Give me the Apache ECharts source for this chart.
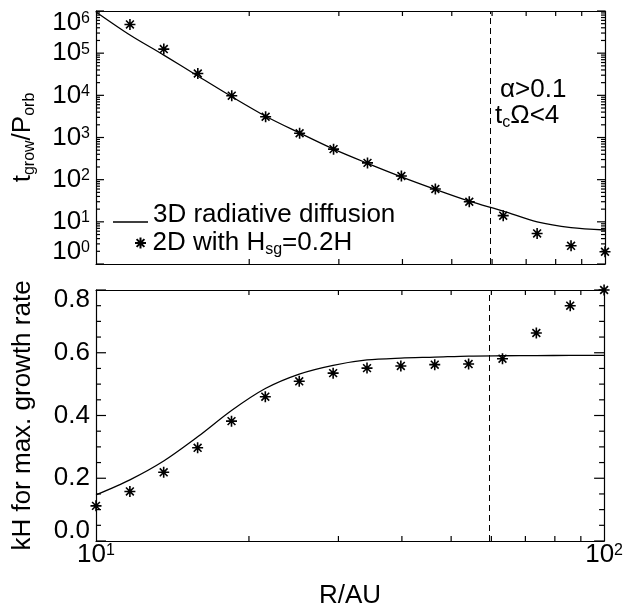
<!DOCTYPE html>
<html>
<head>
<meta charset="utf-8">
<script src="https://cdn.jsdelivr.net/npm/echarts@6/dist/echarts.min.js"></script>
<style>
html, body { margin: 0; padding: 0; background: #fff; }
#growth_chart { width: 626px; height: 612px; background: #fff; }
</style>
</head>
<body>
<div id="growth_chart"></div>
<script>
// sampled radii (AU), same for both panels
var radius = [10, 11.66, 13.59, 15.85, 18.48, 21.54, 25.12, 29.29, 34.15, 39.81, 46.42, 54.12, 63.10, 73.56, 85.77, 100];

// top panel: t_grow / P_orb
var growCurve = [9.5e5, 2.7e5, 9.0e4, 2.87e4, 9.3e3, 3.2e3, 1.28e3, 530, 244, 117, 59, 31, 18, 10, 7.3, 6.4];
var growStars = [null, 4.8e5, 1.25e5, 3.3e4, 9.8e3, 3.1e3, 1.26e3, 530, 250, 122, 60, 30, 14, 5.3, 2.7, 1.95];

// bottom panel: kH at max growth rate
var khCurve = [0.147, 0.195, 0.255, 0.332, 0.416, 0.486, 0.532, 0.56, 0.577, 0.583, 0.586, 0.5895, 0.5905, 0.591, 0.5915, 0.5915];
var khStars = [0.112, 0.158, 0.219, 0.297, 0.382, 0.46, 0.509, 0.535, 0.551, 0.558, 0.562, 0.564, 0.581, 0.663, 0.75, 0.80];

// alpha > 0.1 boundary
var boundaryR = 59.5;

// axis ticks
var xMinorTicks = [20, 30, 40, 50, 60, 70, 80, 90];
var yDecades = [1, 10, 100, 1e3, 1e4, 1e5, 1e6];
var khMajorTicks = [0, 0.2, 0.4, 0.6, 0.8];
var khMinorTicks = [0.05, 0.1, 0.15, 0.25, 0.3, 0.35, 0.45, 0.5, 0.55, 0.65, 0.7, 0.75];

var FONT = 'Liberation Sans';
var LINE_NAME = '3D radiative diffusion';
var STAR_NAME = '2D with H_sg=0.2H';
var STAR = 'path://M0,-10L0,10M-10,0L10,0M-7.1,-7.1L7.1,7.1M-7.1,7.1L7.1,-7.1';

var yMinorTicks = [];
for (var d = 0; d < yDecades.length - 1; d++) {
	for (var k = 2; k <= 9; k++) {
		yMinorTicks.push(k * yDecades[d]);
	}
}

function pairs(xs, ys) {
	var out = [];
	for (var i = 0; i < xs.length; i++) {
		if (ys[i] != null) out.push([xs[i], ys[i]]);
	}
	return out;
}

var supRich = {
	b: { fontSize: 26, fontFamily: FONT, color: '#000', lineHeight: 24 },
	s: { fontSize: 16, fontFamily: FONT, color: '#000', lineHeight: 12, verticalAlign: 'top' }
};
var subRich = {
	sub: { fontSize: 16, fontFamily: FONT, color: '#000', lineHeight: 16, verticalAlign: 'bottom' }
};

function powLabel(v) {
	return '{b|10}{s|' + Math.round(Math.log(v) / Math.LN10) + '}';
}

function frame(opt) {
	var a = {
		type: opt.type,
		min: opt.min,
		max: opt.max,
		gridIndex: opt.grid,
		position: opt.pos,
		axisLine: { show: true, onZero: false, lineStyle: { color: '#000', width: 1.2 } },
		axisTick: { show: false },
		axisLabel: { show: false },
		splitLine: { show: false }
	};
	if (opt.type === 'log') a.logBase = 10;
	if (opt.interval) a.interval = opt.interval;
	return a;
}

var xAxes = [
	frame({ type: 'log', min: 10, max: 100, grid: 0, pos: 'bottom' }),
	frame({ type: 'log', min: 10, max: 100, grid: 0, pos: 'top' }),
	frame({ type: 'log', min: 10, max: 100, grid: 1, pos: 'bottom' }),
	frame({ type: 'log', min: 10, max: 100, grid: 1, pos: 'top' })
];
xAxes[2].axisLabel = { show: true, margin: 2, formatter: powLabel, rich: supRich };
xAxes[2].name = 'R/AU';
xAxes[2].nameLocation = 'middle';
xAxes[2].nameGap = 40;
xAxes[2].nameTextStyle = { fontSize: 26, fontFamily: FONT, color: '#000', lineHeight: 30 };

var yAxes = [
	frame({ type: 'log', min: 1, max: 1e6, grid: 0, pos: 'left' }),
	frame({ type: 'log', min: 1, max: 1e6, grid: 0, pos: 'right' }),
	frame({ type: 'value', min: 0, max: 0.8, interval: 0.2, grid: 1, pos: 'left' }),
	frame({ type: 'value', min: 0, max: 0.8, interval: 0.2, grid: 1, pos: 'right' })
];
yAxes[0].axisLabel = {
	show: true, margin: 6, formatter: powLabel, rich: supRich,
	verticalAlignMinLabel: 'bottom', verticalAlignMaxLabel: 'top'
};
yAxes[0].name = 't{sub|grow}/P{sub|orb}';
yAxes[0].nameLocation = 'middle';
yAxes[0].nameGap = 58;
yAxes[0].nameTextStyle = { fontSize: 26, fontFamily: FONT, color: '#000', lineHeight: 30, rich: subRich };

yAxes[2].axisLabel = {
	show: true, margin: 6, fontSize: 26, fontFamily: FONT, color: '#000', lineHeight: 20,
	formatter: function (v) { return v.toFixed(1); },
	verticalAlignMinLabel: 'bottom', verticalAlignMaxLabel: 'top'
};
yAxes[2].name = 'kH for max. growth rate';
yAxes[2].nameLocation = 'middle';
yAxes[2].nameGap = 58;
yAxes[2].nameTextStyle = { fontSize: 26, fontFamily: FONT, color: '#000', lineHeight: 30 };

function boundary() {
	return {
		silent: true,
		symbol: ['none', 'none'],
		label: { show: false },
		lineStyle: { color: '#000', width: 1, type: [6, 4] },
		data: [{ xAxis: boundaryR }]
	};
}

function starStyle() {
	return { color: '#000', borderColor: '#000', borderWidth: 1.6, opacity: 1 };
}

function seg(x1, y1, x2, y2) {
	return {
		type: 'line',
		shape: { x1: x1, y1: y1, x2: x2, y2: y2 },
		style: { stroke: '#000', lineWidth: 1.2 }
	};
}

// inward tick marks drawn as a custom series
// side 'x': marks on bottom and top edges; side 'y': marks on left and right edges
function tickSeries(xi, yi, values, side, len, lo, hi) {
	var data = [];
	for (var i = 0; i < values.length; i++) {
		data.push(side === 'x' ? [values[i], lo] : [lo, values[i]]);
	}
	return {
		type: 'custom', coordinateSystem: 'cartesian2d',
		xAxisIndex: xi, yAxisIndex: yi, silent: true, z: 5,
		data: data,
		renderItem: function (params, api) {
			var v = side === 'x' ? api.value(0) : api.value(1);
			var a, b;
			if (side === 'x') {
				a = api.coord([v, lo]);
				b = api.coord([v, hi]);
				return { type: 'group', children: [seg(a[0], a[1], a[0], a[1] - len), seg(b[0], b[1], b[0], b[1] + len)] };
			}
			a = api.coord([lo, v]);
			b = api.coord([hi, v]);
			return { type: 'group', children: [seg(a[0], a[1], a[0] + len, a[1]), seg(b[0], b[1], b[0] - len, b[1])] };
		}
	};
}

var chart = echarts.init(document.getElementById('growth_chart'));

chart.setOption({
	animation: false,
	grid: [
		{ left: 96, right: 21, top: 11, height: 253 },
		{ left: 96, right: 21, top: 290, height: 253 }
	],
	xAxis: xAxes,
	yAxis: yAxes,
	legend: [{
		data: [{ name: LINE_NAME, icon: 'path://M0,0L35,0L35,0.01Z M0,14L35,14L35,15.3L0,15.3Z' }],
		left: 113, top: 200, padding: 0,
		orient: 'vertical',
		itemWidth: 35, itemHeight: 15.3,
		textStyle: { fontSize: 26, fontFamily: FONT, color: '#000', lineHeight: 30 }
	}, {
		data: [STAR_NAME],
		left: 134, top: 228, padding: 0,
		orient: 'vertical',
		itemWidth: 14, itemHeight: 11,
		formatter: function () { return '2D with H{sub|sg}=0.2H'; },
		textStyle: { fontSize: 26, fontFamily: FONT, color: '#000', lineHeight: 30, rich: subRich }
	}],
	graphic: [{
		type: 'text', left: 500, top: 77,
		style: { text: 'α>0.1', font: '26px "Liberation Sans"', fill: '#000' }
	}, {
		type: 'text', left: 495, top: 101,
		style: {
			text: 't{sub|c}Ω<4', fontSize: 26, fontFamily: FONT, fill: '#000', lineHeight: 30,
			rich: subRich
		}
	}],
	series: [{
		name: LINE_NAME, type: 'line', xAxisIndex: 0, yAxisIndex: 0,
		data: pairs(radius, growCurve),
		symbol: 'none', smooth: 0.3,
		lineStyle: { color: '#000', width: 1.3 },
		itemStyle: { color: '#000' },
		markLine: boundary()
	}, {
		name: STAR_NAME, type: 'scatter', xAxisIndex: 0, yAxisIndex: 0,
		data: pairs(radius, growStars),
		symbol: STAR, symbolSize: 11,
		itemStyle: starStyle()
	}, {
		name: LINE_NAME, type: 'line', xAxisIndex: 2, yAxisIndex: 2,
		data: pairs(radius, khCurve),
		symbol: 'none', smooth: 0.3,
		lineStyle: { color: '#000', width: 1.3 },
		itemStyle: { color: '#000' },
		markLine: boundary()
	}, {
		name: STAR_NAME, type: 'scatter', xAxisIndex: 2, yAxisIndex: 2,
		data: pairs(radius, khStars),
		symbol: STAR, symbolSize: 11,
		itemStyle: starStyle()
	},
		tickSeries(0, 0, xMinorTicks, 'x', 5, 1, 1e6),
		tickSeries(0, 0, yDecades, 'y', 8, 10, 100),
		tickSeries(0, 0, yMinorTicks, 'y', 4, 10, 100),
		tickSeries(2, 2, xMinorTicks, 'x', 5, 0, 0.8),
		tickSeries(2, 2, khMajorTicks, 'y', 10, 10, 100),
		tickSeries(2, 2, khMinorTicks, 'y', 5, 10, 100)
	]
});
</script>
</body>
</html>
